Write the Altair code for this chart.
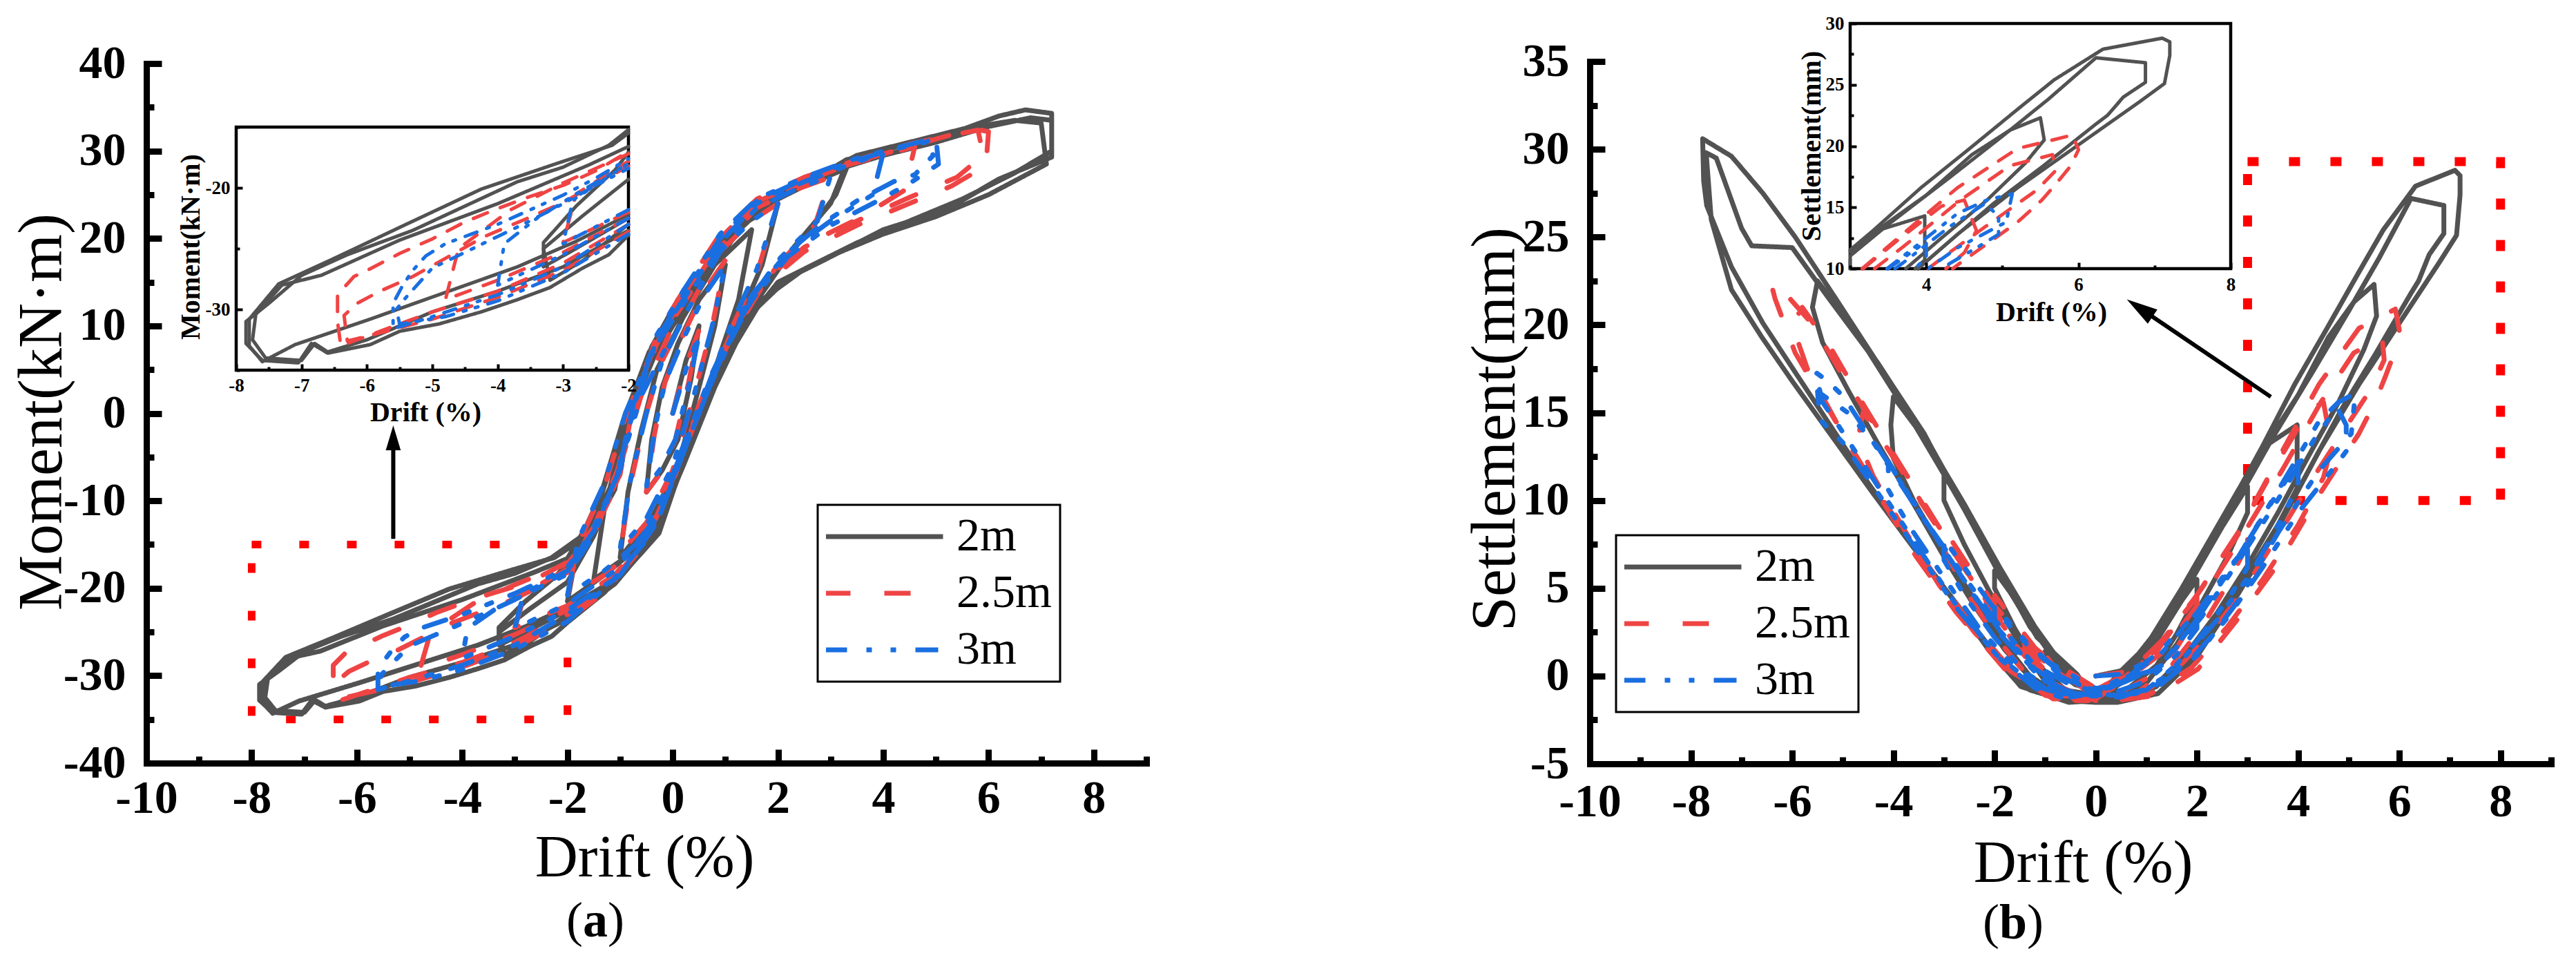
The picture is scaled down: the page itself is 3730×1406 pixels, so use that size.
import altair as alt
import pandas as pd

FONT = "Liberation Serif"
SERIES = ["2m", "2.5m", "3m"]
COLORS = ["#525252", "#EF4444", "#1A6FE0"]
DASH_MAIN = [[1, 0], [38, 49], [33, 28, 8, 27, 8, 28]]
DASH_INSET = [[1, 0], [22, 20], [18, 15, 4, 14, 4, 15]]

# ---------------- panel (a): moment vs drift ----------------
MOMENT_2M = [
    (0, 0), (0.25, 6), (0.5, 10), (0.35, 4), (0.1, -3), (-0.2, -6.5), (-0.5, -9), (-0.4, -3), (-0.2, 3),
    (0.1, 8), (0.5, 13), (1.0, 17), (0.8, 10), (0.5, 3), (0.1, -6), (-0.4, -12), (-1.0, -16.5), (-0.85, -9), (-0.6, -2), (-0.3, 5),
    (0.2, 11), (0.8, 17), (1.5, 21), (1.25, 13), (0.8, 5), (0.3, -4), (-0.3, -12), (-0.9, -16.5), (-1.5, -19), (-1.3, -11), (-1.0, -4), (-0.6, 3), (-0.1, 10),
    (0.6, 16), (1.3, 21.5), (2.0, 24), (1.7, 17), (1.2, 10), (0.6, 1), (0.0, -9), (-0.6, -15), (-1.3, -18.5), (-2.0, -21.5), (-1.8, -15), (-1.35, -9), (-0.95, -1), (-0.45, 7),
    (0.3, 13), (1.0, 19.5), (1.8, 24), (2.5, 26), (3.3, 28), (3.1, 25), (2.6, 21), (2.0, 16.5), (1.3, 10.5), (0.7, 3), (0.2, -5), (-0.4, -13.5), (-1.0, -18.5), (-2.0, -22.5), (-2.8, -25), (-3.3, -26.5), (-3.3, -24.5), (-2.8, -21.5), (-2.2, -18.5), (-1.5, -13.5), (-1.05, -7), (-0.8, 1), (-0.3, 8.5),
    (0.2, 13), (1.0, 20), (1.7, 24), (2.6, 26.5), (3.3, 28.5), (3.0, 24), (2.3, 19), (1.5, 12), (0.8, 4), (0.25, -4), (-0.35, -13.5), (-1.1, -19), (-2.0, -23), (-2.7, -26), (-3.2, -27.6), (-3.3, -25), (-2.7, -22.3), (-2.0, -19.3), (-1.5, -14), (-1.1, -8), (-0.8, 0), (-0.35, 8),
    (0.1, 12.6), (0.6, 15), (1.0, 19.5), (1.6, 24), (2.7, 26.8), (3.3, 29), (4.2, 30.4), (5.2, 31.8), (6.2, 34), (6.7, 34.7), (7.2, 34.3), (7.2, 29.3), (6.2, 26.8), (5.2, 23.3), (4.0, 21), (2.9, 17.6), (2.2, 15.5), (1.45, 11.2), (0.9, 4.8), (0.3, -3.7), (-0.26, -13.7), (-1.0, -18.7), (-2.0, -22.2), (-2.8, -24.4), (-3.7, -26.5), (-4.8, -28.6), (-5.95, -30.8), (-7.1, -32.9), (-7.6, -34.3), (-7.8, -33), (-7.8, -30.8), (-7.35, -27.9), (-6.5, -25.8), (-5.4, -23), (-4.25, -20.1), (-3.1, -18), (-2.25, -16.5), (-1.55, -13.7), (-1.1, -8.7), (-0.85, -0.2), (-0.4, 7.6),
    (0.1, 13), (1.0, 19), (1.6, 24), (2.7, 27), (3.5, 29.5), (4.5, 31), (5.5, 32.5), (6.5, 33.5), (7.0, 33.2), (7.1, 28.5), (6.0, 25), (5.0, 22.5), (4.0, 20.5), (3.0, 18), (2.0, 15), (1.4, 10.5), (0.8, 3), (0.2, -6), (-0.4, -14.5), (-1.1, -19.5), (-2.0, -23.5), (-3.0, -26.5), (-4.0, -28.5), (-5.0, -30.2), (-6.0, -32.5), (-6.6, -33.5), (-6.8, -32.8), (-7.0, -34.2), (-7.55, -34), (-7.75, -32.5), (-7.7, -30.4), (-7.3, -28), (-6.7, -27.2), (-5.5, -24.3), (-4.0, -21.3), (-2.6, -18.1), (-2.0, -16.6), (-1.45, -11), (-1.0, -3), (-0.6, 4), (0, 10),
    (0.8, 17), (1.5, 23), (2.5, 26), (3.3, 28.2), (4.0, 29.5), (5.0, 31), (6.0, 32.8), (6.8, 33.8), (7.2, 33.5), (7.2, 30), (6.5, 27.5), (5.5, 24.5), (4.5, 22), (3.5, 19.5), (2.5, 16.5), (1.7, 13), (1.1, 7), (0.5, -1), (0.0, -9), (-0.6, -16), (-1.3, -20.5), (-2.0, -23.9), (-2.3, -25.5), (-2.7, -26.6), (-3.2, -28.2), (-3.7, -29.2), (-4.25, -30.2), (-4.9, -31.2), (-5.5, -31.8), (-5.95, -32.9), (-6.6, -33.6), (-6.85, -32.8), (-7.05, -34.4), (-7.6, -34.2), (-7.85, -32.8), (-7.85, -31), (-7.5, -29.5), (-7.0, -27.2), (-6.3, -25.5), (-5.3, -23.5), (-4.5, -21.5), (-3.7, -19.5), (-3.0, -18.3), (-2.3, -16.5), (-1.6, -13.5), (-1.15, -8), (-0.9, -1), (-0.5, 6), (0, 11),
]

MOMENT_25M = [
    (0, 0), (0.25, 5.5), (0.5, 9.5), (0.3, 3.5), (0.05, -3), (-0.25, -7), (-0.5, -9), (-0.35, -2.5), (-0.15, 3.5),
    (0.2, 9), (0.6, 14), (1.0, 17.5), (0.75, 10), (0.4, 2), (0.0, -6.5), (-0.5, -12.5), (-1.0, -16), (-0.8, -8), (-0.5, 0), (-0.2, 6),
    (0.3, 12), (0.9, 18.5), (1.5, 22), (2.0, 24), (1.6, 16), (1.1, 9.5), (0.5, 0), (-0.1, -9), (-0.7, -15.5), (-1.3, -18.5), (-2.0, -21), (-1.8, -15), (-1.3, -8.5), (-0.9, -0.5), (-0.4, 7),
    (0.2, 12.5), (0.9, 19), (1.6, 23.5), (2.3, 25.5), (3.0, 27), (2.7, 21.5), (2.0, 17), (1.3, 11), (0.7, 3.5), (0.15, -5), (-0.45, -13.5), (-1.1, -18.5), (-2.0, -22), (-3.0, -24.5), (-2.8, -20.5), (-2.0, -17.8), (-1.5, -13), (-1.0, -7), (-0.75, 1), (-0.3, 8.5),
    (0.2, 13), (0.9, 19.5), (1.5, 23.5), (2.3, 26), (3.2, 28.2), (4.0, 29.5), (4.6, 30.5), (4.4, 25.5), (3.6, 22.5), (2.6, 19.5), (1.8, 15.5), (1.2, 10), (0.6, 2.5), (0.1, -6), (-0.5, -14.5), (-1.2, -19.5), (-2.0, -22.5), (-3.0, -25.3), (-4.0, -27.6), (-4.8, -29.2), (-4.6, -25), (-3.8, -21.8), (-3.0, -19.6), (-2.0, -17.2), (-1.5, -13.5), (-1.05, -8), (-0.75, 0.5), (-0.3, 8),
    (0.2, 13.5), (0.9, 20), (1.6, 24.2), (2.5, 26.5), (3.5, 28.8), (4.5, 30.5), (5.2, 31.7), (5.7, 32.6), (6.0, 32.2), (5.95, 28.3), (5.3, 26), (4.5, 24), (3.5, 21.5), (2.5, 18.5), (1.7, 14.5), (1.1, 8.5), (0.55, 1.5), (0.05, -7), (-0.55, -15), (-1.2, -19.8), (-2.0, -23), (-3.0, -26.2), (-4.0, -28.5), (-5.0, -30.2), (-5.8, -31.8), (-6.4, -33), (-6.45, -31), (-6.45, -28.8), (-6.2, -27.3), (-6.0, -26.8), (-5.5, -25.4), (-5.0, -24.2), (-4.5, -22.8), (-4.0, -21.7), (-3.5, -20.7), (-3.0, -19.8), (-2.5, -18.6), (-2.0, -17.0), (-1.5, -13), (-1.05, -6.5), (-0.7, 1.5), (-0.3, 9),
    (0.2, 14), (0.9, 20.5), (1.6, 24.5), (2.5, 27), (3.5, 29), (4.5, 30.8), (5.3, 31.8), (5.8, 32.4), (5.9, 29.5), (5.4, 27), (4.5, 24.7), (3.5, 22), (2.5, 19), (1.7, 15), (1.1, 9), (0.5, 1), (0, -8), (-0.6, -15.5), (-1.3, -20.5), (-2.0, -23.6), (-3.0, -26.8), (-4.0, -29), (-5.0, -30.8), (-5.7, -31.8), (-6.3, -32.6), (-6.35, -30.5), (-6.15, -29.5), (-5.8, -28.5), (-5.3, -27.3), (-4.8, -25.8), (-4.2, -24), (-3.5, -22.4), (-3.0, -21.2), (-2.5, -19.7), (-2.0, -18.2), (-1.5, -14), (-1.05, -7), (-0.6, 2), (0, 10),
]

MOMENT_3M = [
    (0, 0), (0.25, 5), (0.5, 9), (0.3, 3), (0.05, -3), (-0.25, -6.5), (-0.5, -8.5), (-0.35, -2), (-0.15, 3.5),
    (0.2, 8.5), (0.6, 13.5), (1.0, 17), (0.75, 10), (0.4, 2), (0, -6), (-0.5, -12), (-1.0, -15.5), (-0.8, -7.5), (-0.5, 0), (-0.2, 6),
    (0.3, 12), (0.9, 18.5), (1.5, 22), (2.0, 24), (1.6, 16.5), (1.1, 10), (0.5, 0.5), (-0.1, -8.5), (-0.7, -15), (-1.3, -18), (-2.0, -20.8), (-1.8, -14.5), (-1.3, -8), (-0.9, 0), (-0.4, 7),
    (0.2, 12.5), (0.9, 19), (1.6, 23.5), (2.3, 25.5), (3.0, 27.2), (2.75, 22), (2.0, 17.5), (1.3, 11.5), (0.7, 4), (0.15, -4.5), (-0.45, -13), (-1.1, -18), (-2.0, -21.8), (-3.0, -24.6), (-2.85, -21), (-2.0, -18), (-1.5, -13), (-1.0, -6.5), (-0.7, 1), (-0.3, 8.5),
    (0.2, 13), (0.9, 19.5), (1.6, 24), (2.5, 26.5), (3.3, 28.3), (4.0, 29.8), (3.8, 25), (3.0, 22), (2.2, 18.5), (1.5, 13.5), (0.9, 6), (0.3, -3), (-0.3, -12.5), (-1.0, -18.5), (-2.0, -22.5), (-3.0, -25.5), (-4.0, -28), (-3.9, -24.6), (-3.4, -22.5), (-2.8, -20.5), (-2.0, -18), (-1.5, -13.5), (-1.05, -7), (-0.75, 1), (-0.3, 8.5),
    (0.2, 13.5), (0.9, 20), (1.6, 24.3), (2.5, 26.8), (3.4, 28.8), (4.2, 30.2), (4.8, 31), (5.0, 31.6), (5.05, 28.5), (4.5, 26.3), (3.8, 24), (3.0, 21.5), (2.2, 18), (1.5, 13), (0.9, 6), (0.3, -3), (-0.3, -12.5), (-1.0, -18.5), (-2.0, -23), (-3.0, -26.5), (-4.0, -28.8), (-5.0, -30.6), (-5.6, -31.6), (-5.6, -29.5), (-5.45, -28), (-5.3, -26.8), (-5.1, -25.6), (-4.8, -24.6), (-4.4, -23.8), (-4.0, -23), (-3.5, -21.8), (-3.0, -20.6), (-2.5, -19.2), (-2.0, -17.6), (-1.5, -13.5), (-1.05, -7), (-0.7, 1.5), (-0.3, 9),
    (0.2, 14), (0.9, 20.5), (1.6, 24.5), (2.5, 27), (3.4, 29), (4.2, 30.3), (4.8, 31.2), (4.95, 29.5), (4.6, 27.3), (4.2, 26.5), (3.5, 24.3), (2.8, 21.5), (2.0, 17.5), (1.3, 11), (0.7, 3), (0.1, -6), (-0.5, -14.5), (-1.2, -19.5), (-2.0, -23.8), (-3.0, -27), (-4.0, -29.3), (-4.8, -30.6), (-5.5, -31.2), (-5.55, -30), (-5.4, -29), (-5.2, -27.8), (-5.0, -26.6), (-4.5, -25.3), (-4.0, -24), (-3.5, -22.7), (-3.0, -21.3), (-2.5, -19.8), (-2.0, -18.4), (-1.5, -14), (-1.05, -7), (-0.6, 2), (0, 9),
]

# ---------------- panel (b): settlement vs drift ----------------
SETTLE_2M = [
    (0, 0), (0.5, 0.3), (1.0, 1.2), (0.8, 0.2), (0.4, -0.6), (0, -0.8), (-0.5, 0.2), (-1.0, 1.4), (-0.8, 0.3), (-0.4, -0.5), (0, -0.8),
    (0.6, 0), (1.2, 2), (1.7, 4.3), (2.0, 5.5), (2.0, 4.6), (1.6, 2.4), (1.2, 0.6), (0.6, -0.8), (0, -1),
    (-0.6, 0), (-1.2, 2.5), (-1.7, 4.8), (-2.0, 6.0), (-2.0, 5.0), (-1.6, 2.7), (-1.2, 0.8), (-0.6, -0.8), (0, -1.1),
    (0.6, 0.2), (1.2, 2.3), (1.9, 5.5), (2.5, 8.5), (3.0, 10.8), (3.0, 9.3), (2.6, 6.8), (2.1, 4.2), (1.6, 1.8), (1.0, -0.4), (0.4, -1.2), (0, -1.2),
    (-0.5, 0), (-1.2, 2.8), (-1.9, 6), (-2.5, 9), (-3.0, 11.5), (-3.0, 10), (-2.6, 7.5), (-2.1, 4.8), (-1.5, 1.8), (-1.0, -0.3), (-0.4, -1.2), (0, -1.3),
    (0.5, 0), (1.1, 2.2), (1.7, 5), (2.5, 9), (3.3, 13), (3.98, 14.3), (3.98, 12.5), (3.98, 10.7), (3.6, 8.6), (3.0, 5.8), (2.4, 3.5), (1.8, 1.3), (1.2, -0.5), (0.5, -1.3), (0, -1.3),
    (-0.5, 0), (-1.2, 2.8), (-1.9, 6.2), (-2.6, 9.8), (-3.3, 13.2), (-4.0, 15.9), (-4.05, 14.3), (-4.0, 12.4), (-3.6, 10), (-3.1, 7.5), (-2.5, 4.8), (-1.9, 2.2), (-1.3, 0), (-0.6, -1.3), (0, -1.4),
    (0.5, 0), (1.1, 2), (1.8, 5.2), (2.5, 8.8), (3.3, 12.9), (4.0, 16), (4.6, 19.3), (5.1, 21.3), (5.5, 22.3), (5.55, 20.5), (5.3, 18.6), (4.8, 15.6), (4.2, 12.5), (3.6, 9.3), (3.0, 6.3), (2.4, 3.6), (1.8, 1.3), (1.2, -0.6), (0.5, -1.4), (0, -1.4),
    (-0.5, 0), (-1.2, 2.5), (-1.9, 6), (-2.7, 10.2), (-3.4, 13.8), (-4.3, 17.8), (-5.0, 20.6), (-5.5, 22.5), (-5.6, 21), (-5.4, 19), (-4.9, 16.3), (-4.3, 13.2), (-3.6, 9.8), (-3.0, 6.8), (-2.4, 4), (-1.8, 1.5), (-1.2, -0.4), (-0.6, -1.4), (0, -1.5),
    (0.43, 0.1), (1.07, 1.9), (1.7, 4.7), (2.5, 8.9), (3.3, 13.1), (3.93, 16.6), (4.57, 19.8), (5.2, 23), (5.68, 25.4), (6.32, 27.9), (7.1, 28.8), (7.2, 28.5), (7.2, 27.4), (7.13, 25.1), (6.8, 23.6), (6.0, 20.1), (5.2, 16.6), (4.41, 12.8), (3.61, 8.5), (2.82, 4.7), (2.02, 1.2), (1.23, -1), (0.43, -1.5), (0, -1.5),
    (-0.37, 0.1), (-1.16, 2.2), (-1.96, 6.1), (-2.75, 10.3), (-3.39, 13.8), (-4.35, 18), (-5.14, 21.5), (-5.94, 25), (-6.58, 27.5), (-7.2, 29.6), (-7.77, 30.6), (-7.75, 28.2), (-7.69, 26.8), (-7.2, 23.3), (-6.58, 20.1), (-5.94, 17.3), (-5.3, 14.5), (-4.5, 11), (-3.71, 7.8), (-2.91, 4.7), (-2.12, 1.5), (-1.48, -0.6), (-0.53, -1.5), (0, -1.4),
    (0.6, 0.3), (1.2, 2.4), (1.9, 5.5), (2.7, 9.5), (3.5, 13.6), (4.3, 17.4), (5.0, 20.8), (5.6, 23.8), (6.23, 27.2), (6.88, 26.8), (6.88, 25.2), (6.59, 24), (6.38, 22.5), (6.23, 21.8), (5.52, 18.3), (4.88, 15.3), (4.45, 13), (3.8, 9.5), (3.1, 6), (2.4, 3), (1.7, 0.6), (1.0, -1), (0.3, -1.4), (0, -1.3),
    (-0.6, 0.3), (-1.3, 2.8), (-2.0, 6.5), (-2.8, 10.5), (-3.6, 14.4), (-4.5, 18.5), (-5.3, 21.6), (-6.0, 24.4), (-6.8, 24.5), (-7.0, 25.5), (-7.5, 29.5), (-7.7, 29.8), (-7.6, 26), (-7.2, 22), (-6.6, 19.3), (-6.0, 16.8), (-5.2, 13.6), (-4.4, 10.4), (-3.6, 7.3), (-2.8, 4.3), (-2.0, 1.3), (-1.3, -0.8), (-0.6, -1.4), (0, -1.2),
]

SETTLE_25M = [
    (0, 0), (0.5, 0.2), (1.0, 1.0), (0.7, 0), (0.3, -0.6), (0, -0.7), (-0.5, 0.2), (-1.0, 1.2), (-0.7, 0.1), (-0.3, -0.6), (0, -0.8),
    (0.7, 0.3), (1.3, 2), (2.0, 4.5), (2.0, 3.5), (1.6, 1.6), (1.1, 0), (0.5, -0.9), (0, -1), (-0.6, 0.2), (-1.2, 1.6), (-2.0, 4.6), (-2.0, 3.6), (-1.6, 1.8), (-1.0, -0.2), (-0.4, -1), (0, -1),
    (0.6, 0), (1.2, 1.6), (2.0, 4.6), (2.8, 8), (3.0, 8.8), (3.0, 7.5), (2.6, 5.2), (2.1, 2.8), (1.5, 0.6), (0.8, -1), (0, -1.2), (-0.6, 0), (-1.2, 1.4), (-2.0, 4), (-2.8, 7.5), (-3.0, 8.4), (-3.0, 7.2), (-2.6, 5), (-2.0, 2.3), (-1.4, 0.2), (-0.7, -1), (0, -1.2),
    (0.6, 0), (1.2, 1.5), (2.0, 4.6), (2.8, 8.1), (3.6, 12.2), (4.2, 15.1), (4.5, 15.6), (4.66, 13.1), (4.5, 11.3), (4.0, 8.6), (3.3, 5.5), (2.6, 2.8), (1.9, 0.5), (1.1, -1), (0.3, -1.3),
    (-0.5, -0.2), (-1.2, 1.2), (-2.0, 3.6), (-2.8, 7), (-3.6, 10.6), (-4.3, 13.8), (-4.6, 15), (-4.7, 13.5), (-4.4, 11.4), (-3.8, 8.4), (-3.1, 5.2), (-2.4, 2.5), (-1.7, 0.3), (-0.9, -1.1), (0, -1.2),
    (0.6, 0), (1.23, 1.5), (2.02, 4.7), (2.82, 8.2), (3.61, 12.4), (4.41, 16.6), (5.2, 19.8), (5.6, 20.4), (5.92, 20.9), (6.0, 19.7), (5.9, 18.4), (5.73, 17.1), (5.52, 15.6), (5.2, 13.8), (4.41, 10.3), (3.61, 6.4), (2.82, 3.3), (2.02, 0.4), (1.2, -1.1), (0.4, -1.4), (-0.4, -1.4),
    (-1.16, 0.8), (-1.96, 3.3), (-2.75, 6.8), (-3.55, 10.3), (-4.35, 14.2), (-4.98, 17), (-5.62, 20.1), (-6.2, 22), (-6.42, 22.4), (-6.34, 21.5), (-5.94, 18.4), (-5.14, 14.5), (-4.35, 10.6), (-3.55, 6.8), (-2.75, 3.6), (-1.8, 0.4), (-0.84, -1.3), (0, -1.3),
    (0.6, -0.2), (1.3, 1.3), (2.1, 4.4), (2.9, 8), (3.7, 11.8), (4.45, 15.6), (5.1, 18.4), (5.66, 19.3), (5.7, 18), (5.45, 16.4), (4.95, 14.2), (4.3, 11.3), (3.6, 8), (2.9, 4.8), (2.2, 2.2), (1.5, 0.1), (0.8, -1.2), (0, -1.4),
    (-0.8, -0.6), (-1.5, 1.5), (-2.3, 4.8), (-3.1, 8.5), (-3.9, 12.2), (-4.6, 15.5), (-5.2, 18.5), (-5.8, 21), (-6.0, 20), (-5.7, 17.5), (-5.0, 13.8), (-4.2, 10), (-3.4, 6.6), (-2.6, 3.5), (-1.8, 0.8), (-1.0, -1.1), (-0.3, -1.6), (0, -1.2),
]

SETTLE_3M = [
    (0, 0), (0.5, 0.1), (1.0, 0.8), (0.7, -0.1), (0.3, -0.6), (0, -0.7), (-0.5, 0.1), (-1.0, 0.9), (-0.7, 0), (-0.3, -0.6), (0, -0.8),
    (0.7, 0.1), (1.3, 1.5), (2.0, 3.6), (2.0, 2.7), (1.6, 1.2), (1.0, -0.3), (0.4, -0.9), (0, -1), (-0.6, 0), (-1.3, 1.7), (-2.0, 4), (-2.0, 3), (-1.6, 1.5), (-1.0, -0.3), (-0.4, -1), (0, -1),
    (0.6, -0.1), (1.3, 1.3), (2.0, 3.6), (2.7, 6.4), (3.0, 7.4), (3.0, 6.2), (2.6, 4.3), (2.0, 2), (1.4, 0), (0.8, -1), (0, -1.1), (-0.6, 0), (-1.3, 1.6), (-2.0, 3.8), (-2.7, 6.6), (-3.0, 7.8), (-3.0, 6.6), (-2.6, 4.6), (-2.0, 2.2), (-1.4, 0.2), (-0.7, -1), (0, -1.1),
    (0.6, -0.1), (1.23, 0.4), (2.02, 3.3), (2.82, 6.8), (3.5, 10), (4.0, 12.2), (4.0, 10.9), (3.7, 9.1), (3.1, 6), (2.4, 3.2), (1.7, 0.9), (1.0, -0.8), (0.3, -1.1),
    (-0.5, -0.5), (-1.2, 0.6), (-2.0, 3.2), (-2.8, 6.5), (-3.5, 9.4), (-4.1, 12.2), (-4.1, 10.6), (-3.7, 8.6), (-3.0, 5.6), (-2.3, 2.7), (-1.6, 0.5), (-0.9, -0.9), (0, -1.1),
    (0.6, -0.2), (1.23, 0.4), (2.02, 3.3), (2.82, 6.8), (3.61, 10.6), (4.41, 14.5), (4.8, 15.6), (5.13, 16.1), (5.05, 13.8), (4.41, 11.7), (3.61, 8.2), (2.82, 4.3), (2.02, 1.2), (1.23, -0.6), (0.5, -1.1), (-0.4, -1),
    (-1.16, 0.1), (-1.96, 2.6), (-2.75, 6.1), (-3.55, 9.6), (-4.35, 13.1), (-4.98, 15.9), (-5.3, 16.8), (-5.54, 17.3), (-5.4, 15.6), (-5.14, 14.5), (-4.35, 11), (-3.55, 7.5), (-2.75, 4), (-1.96, 1.2), (-1.16, -0.6), (-0.5, -1.2), (0, -1),
    (0.6, -0.3), (1.3, 0.6), (2.1, 3.4), (2.9, 6.9), (3.7, 10.5), (4.3, 13.4), (4.77, 15.3), (4.95, 14.3), (4.95, 12.8), (4.66, 11.7), (4.0, 9.3), (3.3, 6.2), (2.6, 3.3), (1.9, 1), (1.2, -0.5), (0.5, -1.2), (-0.4, -1.1),
    (-1.2, 0.4), (-2.0, 2.9), (-2.8, 6.3), (-3.6, 9.9), (-4.3, 13), (-4.9, 15), (-5.5, 16.2), (-5.45, 14.6), (-5.0, 13.3), (-4.3, 10.4), (-3.5, 7), (-2.7, 3.7), (-1.9, 1), (-1.2, -0.7), (-0.6, -1.3), (0, -0.9),
]

# axis tick values
X_MAJOR = [-10, -8, -6, -4, -2, 0, 2, 4, 6, 8]
X_MINOR = [-9, -7, -5, -3, -1, 1, 3, 5, 7, 9]
A_Y_MAJOR = [-40, -30, -20, -10, 0, 10, 20, 30, 40]
A_Y_MINOR = [-35, -25, -15, -5, 5, 15, 25, 35]
B_Y_MAJOR = [-5, 0, 5, 10, 15, 20, 25, 30, 35]
B_Y_MINOR = [-2.5, 2.5, 7.5, 12.5, 17.5, 22.5, 27.5, 32.5]
IA_X_MAJOR = [-8, -7, -6, -5, -4, -3, -2]
IA_X_MINOR = [-7.5, -6.5, -5.5, -4.5, -3.5, -2.5]
IA_Y_MAJOR = [-30, -20]
IA_Y_MINOR = [-35, -25, -15]
IB_X_MAJOR = [4, 6, 8]
IB_X_MINOR = [3, 5, 7]
IB_Y_MAJOR = [10, 15, 20, 25, 30]
IB_Y_MINOR = [12.5, 17.5, 22.5, 27.5]

# zoom windows (inset domains) and highlight boxes
IA_BOX = {"x1": [-8], "x2": [-2], "y1": [-35], "y2": [-15]}
IB_BOX = {"x1": [3], "x2": [8], "y1": [10], "y2": [30]}
A_MARK_BOX = {"x1": [-8], "x2": [-2], "y1": [-35], "y2": [-15]}
B_MARK_BOX = {"x1": [3], "x2": [8], "y1": [10], "y2": [29.3]}

# arrows (in main-plot data coordinates)
A_ARROW = {"x1": [-5.31], "y1": [-14.35], "x2": [-5.31], "y2": [-2.81]}
B_ARROW = {"x1": [3.46], "y1": [15.9], "x2": [0.868], "y2": [20.96]}

VIEW_W, VIEW_H = 3714, 1390


def frame(series_lists):
    rows = []
    for name, pts in zip(SERIES, series_lists):
        for i, (x, y) in enumerate(pts):
            rows.append({"series": name, "order": i, "x": x, "y": y})
    return pd.DataFrame(rows)


DF_A = frame([MOMENT_2M, MOMENT_25M, MOMENT_3M])
DF_B = frame([SETTLE_2M, SETTLE_25M, SETTLE_3M])


def sc(domain, rng):
    return alt.Scale(domain=domain, range=rng, nice=False, zero=False)


def lab_axis(orient, offset, values, lpad, lsize, title, tsize, tweight, tx, ty, dwidth=0):
    kw = dict(orient=orient, offset=offset, values=values, ticks=False, grid=False,
              labelFont=FONT, labelFontSize=lsize, labelFontWeight="bold", labelColor="black",
              labelPadding=lpad, labelFlush=False, labelOverlap=False,
              labelExpr="'' + datum.value",
              title=title, titleFont=FONT, titleFontSize=tsize, titleFontWeight=tweight,
              titleColor="black", titleX=tx, titleY=ty, titleAlign="center",
              titleBaseline="alphabetic", zindex=3)
    if dwidth > 0:
        kw.update(domain=True, domainWidth=dwidth, domainColor="black", domainCap="square")
    else:
        kw.update(domain=False)
    if orient == "left":
        kw.update(labelAlign="right", labelBaseline="middle", titleAngle=270)
    else:
        kw.update(labelAlign="center", labelBaseline="alphabetic", titleAngle=0)
    return alt.Axis(**kw)


def tick_axis(orient, offset, values, size, width):
    return alt.Axis(orient=orient, offset=offset, values=values, ticks=True,
                    tickSize={"expr": str(-size)}, tickWidth=width, tickColor="black",
                    tickCap="butt", labels=False, domain=False, grid=False, title=None, zindex=3)


def legend(lx, ly):
    return alt.Legend(title=None, orient="none", legendX=lx, legendY=ly, padding=12,
                      strokeColor="black", fillColor="white", symbolType="stroke",
                      symbolSize=29584, symbolStrokeWidth=7, clipHeight=68, rowPadding=14,
                      symbolOffset=-6, labelFont=FONT, labelFontSize=68, labelColor="black",
                      labelOffset=16, labelLimit=600)


def clipped_chart(df, x0, x1, y0, y1):
    e = 1e-9

    def inb(xf, yf):
        return (f"({xf} != null && {xf} >= {x0 - e} && {xf} <= {x1 + e} && "
                f"{yf} >= {y0 - e} && {yf} <= {y1 + e})")

    srt = [alt.SortField(field="order", order="ascending")]
    ch = alt.Chart(df).transform_window(
        window=[alt.WindowFieldDef(op="lag", field="x", **{"as": "px"}),
                alt.WindowFieldDef(op="lag", field="y", **{"as": "py"}),
                alt.WindowFieldDef(op="lead", field="x", **{"as": "nx"}),
                alt.WindowFieldDef(op="lead", field="y", **{"as": "ny"})],
        groupby=["series"], sort=srt,
    ).transform_calculate(
        ins=f"{inb('datum.x', 'datum.y')} ? 1 : 0"
    ).transform_calculate(
        pins=f"{inb('datum.px', 'datum.py')} ? 1 : 0"
    ).transform_calculate(
        nins=f"{inb('datum.nx', 'datum.ny')} ? 1 : 0"
    ).transform_calculate(
        role="datum.ins == 1 ? 0 : (datum.pins == 1 ? 1 : (datum.nins == 1 ? 2 : -1))"
    ).transform_calculate(
        ax="datum.role == 1 ? datum.px : datum.nx"
    ).transform_calculate(
        ay="datum.role == 1 ? datum.py : datum.ny"
    ).transform_calculate(
        tx=f"datum.x > {x1} ? ({x1} - datum.ax) / (datum.x - datum.ax) : "
           f"(datum.x < {x0} ? ({x0} - datum.ax) / (datum.x - datum.ax) : 1)"
    ).transform_calculate(
        ty=f"datum.y > {y1} ? ({y1} - datum.ay) / (datum.y - datum.ay) : "
           f"(datum.y < {y0} ? ({y0} - datum.ay) / (datum.y - datum.ay) : 1)"
    ).transform_calculate(
        cx="datum.role == 0 ? datum.x : datum.ax + min(datum.tx, datum.ty) * (datum.x - datum.ax)"
    ).transform_calculate(
        cy="datum.role == 0 ? datum.y : datum.ay + min(datum.tx, datum.ty) * (datum.y - datum.ay)"
    ).transform_calculate(
        enter="datum.ins == 1 && datum.pins == 0 ? 1 : 0"
    ).transform_window(
        window=[alt.WindowFieldDef(op="sum", field="enter", **{"as": "segc"})],
        groupby=["series"], sort=srt,
    ).transform_calculate(
        seg="datum.segc + (datum.role == 2 ? 1 : 0)"
    ).transform_filter("datum.role >= 0")
    return ch


# ---------- scales (pixel ranges inside the 3714x1390 view) ----------
A_XR, A_YR = [204, 1652], [1097, 84]
B_XR, B_YR = [2294, 3686], [1098, 81]
IA_XR, IA_YR = [334, 902], [528, 176]
IB_XR, IB_YR = [2671, 3222], [381, 26]

sxA = lambda: sc([-10, 9], A_XR)
syA = lambda: sc([-40, 40], A_YR)
sxB = lambda: sc([-10, 9], B_XR)
syB = lambda: sc([-5, 35], B_YR)
sxIA = lambda: sc([-8, -2], IA_XR)
syIA = lambda: sc([-35, -15], IA_YR)
sxIB = lambda: sc([3, 8], IB_XR)
syIB = lambda: sc([10, 30], IB_YR)

color_main = lambda lg: alt.Color("series:N", scale=alt.Scale(domain=SERIES, range=COLORS), legend=lg)
dash_main = lambda lg: alt.StrokeDash("series:N", scale=alt.Scale(domain=SERIES, range=DASH_MAIN), legend=lg)
color_in = alt.Color("series:N", scale=alt.Scale(domain=SERIES, range=COLORS), legend=None)
dash_in = alt.StrokeDash("series:N", scale=alt.Scale(domain=SERIES, range=DASH_INSET), legend=None)

# ---------- panel (a) ----------
a_rect = alt.Chart(pd.DataFrame(A_MARK_BOX)).mark_rect(
    fillOpacity=0, stroke="#FF0000", strokeWidth=11, strokeDash=[14, 55]
).encode(
    x=alt.X("x1:Q", scale=sxA(), axis=tick_axis("bottom", -293, X_MAJOR, 20, 9)),
    x2="x2:Q",
    y=alt.Y("y1:Q", scale=syA(), axis=tick_axis("left", -204, A_Y_MAJOR, 22, 9)),
    y2="y2:Q",
)
legA = legend(1176, 723)
a_lines = alt.Chart(DF_A).mark_line(strokeWidth=7, strokeCap="round", strokeJoin="round").encode(
    x=alt.X("x:Q", scale=sxA(), axis=lab_axis("bottom", -293, X_MAJOR, 71, 68, "Drift (%)", 86, "normal", 925, 163, 9)),
    y=alt.Y("y:Q", scale=syA(), axis=lab_axis("left", -204, A_Y_MAJOR, 30, 68, "Moment(kN·m)", 90, "normal", -124, 588, 9)),
    color=color_main(legA), strokeDash=dash_main(legA), order="order:Q",
)
a_arrow = alt.Chart(pd.DataFrame(A_ARROW)).mark_rule(strokeWidth=6, color="black").encode(
    x=alt.X("x1:Q", scale=sxA(), axis=tick_axis("bottom", -293, X_MINOR, 10, 9)),
    y=alt.Y("y1:Q", scale=syA(), axis=tick_axis("left", -204, A_Y_MINOR, 11, 9)),
    y2="y2:Q",
)
a_head = alt.Chart(pd.DataFrame(A_ARROW)).mark_point(
    shape="M0,-1L0.6,1L-0.6,1Z", filled=True, size=1296, color="black", opacity=1, angle=0
).encode(
    x=alt.X("x2:Q", scale=sxA(), axis=None),
    y=alt.Y("y2:Q", scale=syA(), axis=None),
)

# ---------- panel (b) ----------
b_rect = alt.Chart(pd.DataFrame(B_MARK_BOX)).mark_rect(
    fillOpacity=0, stroke="#FF0000", strokeWidth=13, strokeDash=[16, 44]
).encode(
    x=alt.X("x1:Q", scale=sxB(), axis=tick_axis("bottom", -292, X_MAJOR, 20, 9)),
    x2="x2:Q",
    y=alt.Y("y1:Q", scale=syB(), axis=tick_axis("left", -2294, B_Y_MAJOR, 22, 9)),
    y2="y2:Q",
)
legB = legend(2332, 767)
b_lines = alt.Chart(DF_B).mark_line(strokeWidth=7, strokeCap="round", strokeJoin="round").encode(
    x=alt.X("x:Q", scale=sxB(), axis=lab_axis("bottom", -292, X_MAJOR, 75, 68, "Drift (%)", 86, "normal", 3008, 170, 9)),
    y=alt.Y("y:Q", scale=syB(), axis=lab_axis("left", -2294, B_Y_MAJOR, 30, 68, "Settlement(mm)", 90, "normal", -110, 613, 9)),
    color=color_main(legB), strokeDash=dash_main(legB), order="order:Q",
)
b_arrow = alt.Chart(pd.DataFrame(B_ARROW)).mark_rule(strokeWidth=6, color="black").encode(
    x=alt.X("x1:Q", scale=sxB(), axis=tick_axis("bottom", -292, X_MINOR, 10, 9)),
    y=alt.Y("y1:Q", scale=syB(), axis=tick_axis("left", -2294, B_Y_MINOR, 11, 9)),
    x2="x2:Q", y2="y2:Q",
)
b_head = alt.Chart(pd.DataFrame(B_ARROW)).mark_point(
    shape="M0,-1L0.55,1L-0.55,1Z", filled=True, size=2025, color="black", opacity=1, angle=304
).encode(
    x=alt.X("x2:Q", scale=sxB(), axis=None),
    y=alt.Y("y2:Q", scale=syB(), axis=None),
)

# ---------- inset (a) ----------
ia_frame = alt.Chart(pd.DataFrame(IA_BOX)).mark_rect(
    fill="white", stroke="black", strokeWidth=4.5
).encode(
    x=alt.X("x1:Q", scale=sxIA(), axis=tick_axis("bottom", -862, IA_X_MAJOR, 9, 4)),
    x2="x2:Q",
    y=alt.Y("y1:Q", scale=syIA(), axis=tick_axis("left", -334, IA_Y_MAJOR, 9, 4)),
    y2="y2:Q",
)
ia_lines = clipped_chart(DF_A, -8, -2, -35, -15).mark_line(
    strokeWidth=5, strokeCap="round", strokeJoin="round"
).encode(
    x=alt.X("cx:Q", scale=sxIA(), axis=lab_axis("bottom", -862, IA_X_MAJOR, 30, 27, "Drift (%)", 40, "bold", 608, 73)),
    y=alt.Y("cy:Q", scale=syIA(), axis=lab_axis("left", -334, IA_Y_MAJOR, 9, 27, "Moment(kN·m)", 40, "bold", -54, 349)),
    color=color_in, strokeDash=dash_in, detail="seg:N", order="order:Q",
)
ia_minor = alt.Chart(pd.DataFrame(IA_BOX)).mark_rect(opacity=0).encode(
    x=alt.X("x1:Q", scale=sxIA(), axis=tick_axis("bottom", -862, IA_X_MINOR, 5, 4)),
    x2="x2:Q",
    y=alt.Y("y1:Q", scale=syIA(), axis=tick_axis("left", -334, IA_Y_MINOR, 5, 4)),
    y2="y2:Q",
)

# ---------- inset (b) ----------
ib_frame = alt.Chart(pd.DataFrame(IB_BOX)).mark_rect(
    fill="white", stroke="black", strokeWidth=4.5
).encode(
    x=alt.X("x1:Q", scale=sxIB(), axis=tick_axis("bottom", -1009, IB_X_MAJOR, 9, 4)),
    x2="x2:Q",
    y=alt.Y("y1:Q", scale=syIB(), axis=tick_axis("left", -2671, IB_Y_MAJOR, 9, 4)),
    y2="y2:Q",
)
ib_lines = clipped_chart(DF_B, 3, 8, 10, 30).mark_line(
    strokeWidth=5, strokeCap="round", strokeJoin="round"
).encode(
    x=alt.X("cx:Q", scale=sxIB(), axis=lab_axis("bottom", -1009, IB_X_MAJOR, 31, 27, "Drift (%)", 40, "bold", 2962, 75)),
    y=alt.Y("cy:Q", scale=syIB(), axis=lab_axis("left", -2671, IB_Y_MAJOR, 9, 27, "Settlement(mm)", 40, "bold", -44, 203)),
    color=color_in, strokeDash=dash_in, detail="seg:N", order="order:Q",
)
ib_minor = alt.Chart(pd.DataFrame(IB_BOX)).mark_rect(opacity=0).encode(
    x=alt.X("x1:Q", scale=sxIB(), axis=tick_axis("bottom", -1009, IB_X_MINOR, 5, 4)),
    x2="x2:Q",
    y=alt.Y("y1:Q", scale=syIB(), axis=tick_axis("left", -2671, IB_Y_MINOR, 5, 4)),
    y2="y2:Q",
)

# ---------- captions ----------
ONE = pd.DataFrame({"k": [0]})


def cap(txt, px, py, align, weight):
    return alt.Chart(ONE).mark_text(
        text=txt, font=FONT, fontSize=72, fontWeight=weight, align=align,
        baseline="alphabetic", color="black"
    ).encode(x=alt.value(px), y=alt.value(py))


caps = [
    cap("(", 836, 1348, "right", "normal"), cap("a", 854, 1348, "center", "bold"), cap(")", 872, 1348, "left", "normal"),
    cap("(", 2887, 1351, "right", "normal"), cap("b", 2907, 1351, "center", "bold"), cap(")", 2927, 1351, "left", "normal"),
]

chart = alt.layer(
    a_rect, a_lines, a_arrow, a_head,
    b_rect, b_lines, b_arrow, b_head,
    ia_frame, ia_lines, ia_minor,
    ib_frame, ib_lines, ib_minor,
    *caps,
).resolve_scale(
    x="independent", y="independent", color="independent", strokeDash="independent"
).resolve_axis(
    x="independent", y="independent"
).resolve_legend(
    color="independent", strokeDash="independent"
).properties(
    width=VIEW_W, height=VIEW_H, padding=0,
    autosize=alt.AutoSizeParams(type="none"),
).configure_view(strokeWidth=0).configure_legend(strokeWidth=3)

chart.save("out.html", embed_options={"renderer": "svg", "actions": False})
